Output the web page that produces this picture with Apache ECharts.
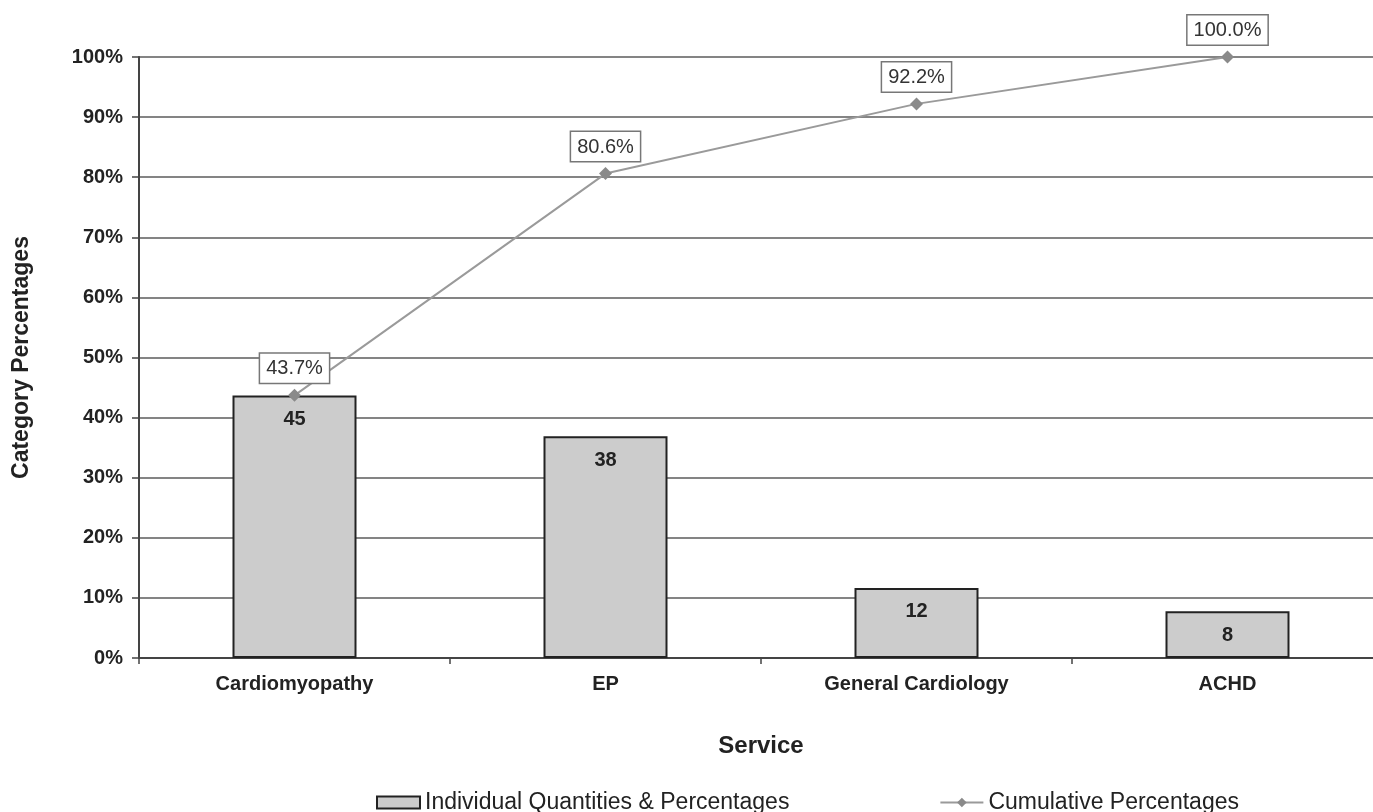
<!DOCTYPE html>
<html>
<head>
<meta charset="utf-8">
<title>Service Pareto</title>
<script src="https://cdn.jsdelivr.net/npm/echarts@6/dist/echarts.min.js"></script>
<style>
  html, body { margin: 0; padding: 0; background: #ffffff; overflow: hidden; }
  /* canvas is a little wider than the page so the plot runs off the right edge */
  #chart { width: 1383px; height: 812px; }
</style>
</head>
<body>
<div id="chart"></div>
<script>
// Patient counts by service, sorted descending (Pareto order)
const services = ['Cardiomyopathy', 'EP', 'General Cardiology', 'ACHD'];
const counts = [45, 38, 12, 8];
const cumulativePct = [43.7, 80.6, 92.2, 100.0];
const yTicks = [0, 10, 20, 30, 40, 50, 60, 70, 80, 90, 100];

const total = counts.reduce((a, b) => a + b, 0);
const barPct = counts.map(c => c / total * 100);

const FONT = '"Liberation Sans", Arial, Helvetica, sans-serif';

const chart = echarts.init(document.getElementById('chart'), null, { renderer: 'canvas' });

chart.setOption({
  animation: false,
  backgroundColor: '#ffffff',
  grid: { left: 139, width: 1244, top: 57, height: 601, containLabel: false },
  legend: {
    left: 371,
    top: 786,
    itemWidth: 43,
    itemHeight: 12,
    itemGap: 150,
    textStyle: { fontFamily: FONT, fontSize: 23, color: '#222' },
    data: [
      { name: 'Individual Quantities & Percentages', icon: 'rect' },
      { name: 'Cumulative Percentages' }
    ]
  },
  xAxis: {
    type: 'category',
    data: services,
    name: 'Service',
    nameLocation: 'middle',
    nameGap: 76,
    nameTextStyle: { fontFamily: FONT, fontSize: 24, fontWeight: 'bold', color: '#222' },
    axisLine: { lineStyle: { color: '#444', width: 2 } },
    axisTick: { show: true, length: 6, lineStyle: { color: '#444', width: 1.5 } },
    axisLabel: { fontFamily: FONT, fontSize: 20, fontWeight: 'bold', color: '#222', margin: 16 }
  },
  yAxis: {
    type: 'value',
    min: yTicks[0],
    max: yTicks[yTicks.length - 1],
    interval: 10,
    name: 'Category Percentages',
    nameLocation: 'middle',
    nameGap: 106,
    nameTextStyle: { fontFamily: FONT, fontSize: 23, fontWeight: 'bold', color: '#222' },
    axisLine: { show: true, lineStyle: { color: '#444', width: 2 } },
    axisTick: { show: true, length: 7, lineStyle: { color: '#444', width: 1.5 } },
    axisLabel: {
      fontFamily: FONT, fontSize: 20, fontWeight: 'bold', color: '#222', margin: 16,
      formatter: v => v + '%'
    },
    splitLine: { show: true, lineStyle: { color: '#848484', width: 2 } }
  },
  series: [
    {
      name: 'Individual Quantities & Percentages',
      type: 'bar',
      data: barPct,
      barWidth: 124,
      itemStyle: { color: '#cccccc', borderColor: '#222', borderWidth: 2 },
      label: {
        show: true,
        position: 'insideTop',
        distance: 14,
        fontFamily: FONT,
        fontSize: 20,
        fontWeight: 'bold',
        color: '#222',
        formatter: p => String(counts[p.dataIndex])
      },
      z: 2
    },
    {
      name: 'Cumulative Percentages',
      type: 'line',
      data: cumulativePct,
      symbol: 'diamond',
      symbolSize: 13,
      itemStyle: { color: '#8a8a8a' },
      lineStyle: { color: '#9a9a9a', width: 2 },
      label: {
        show: true,
        position: 'top',
        distance: 6,
        fontFamily: FONT,
        fontSize: 20,
        color: '#333',
        backgroundColor: '#ffffff',
        borderColor: '#777',
        borderWidth: 1.5,
        padding: [5, 6, 4, 6],
        formatter: p => p.value.toFixed(1) + '%'
      },
      z: 3
    }
  ]
});
</script>
</body>
</html>
